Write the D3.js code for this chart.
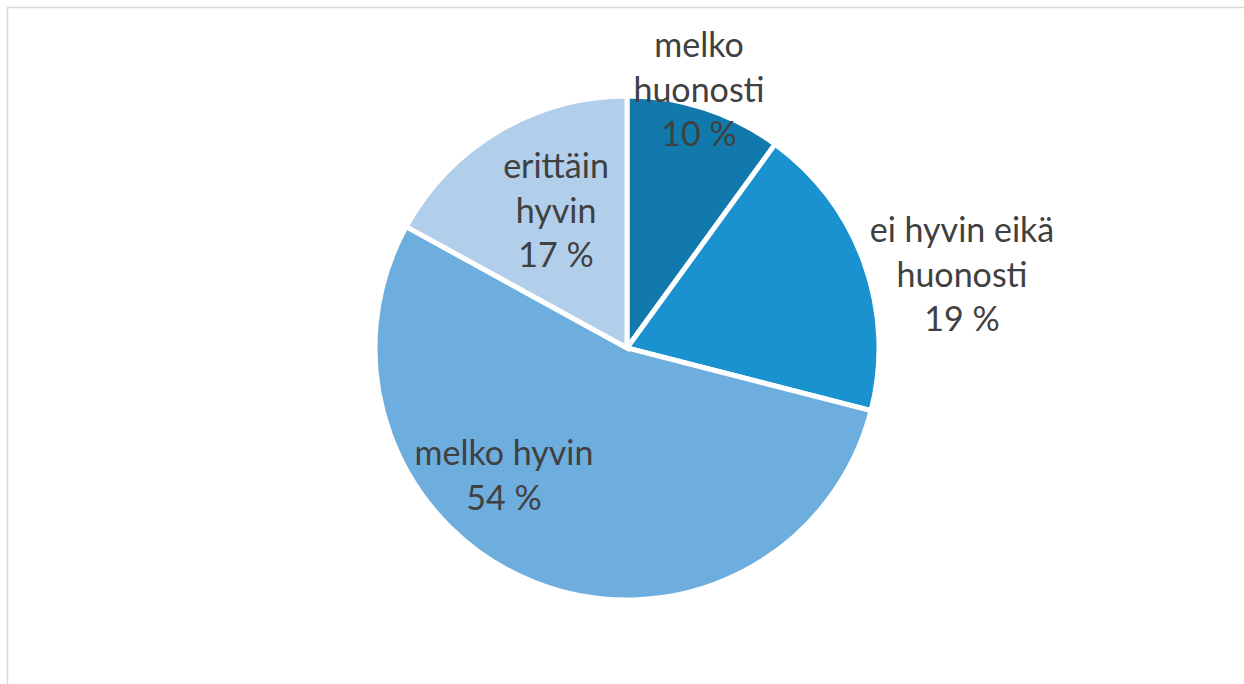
<!DOCTYPE html>
<html><head><meta charset="utf-8">
<script src="https://cdn.jsdelivr.net/npm/d3@7"></script>
<style>html,body{margin:0;padding:0;background:#fff;}svg{display:block;}</style>
</head><body>
<svg id="c" width="1244" height="684"></svg>
<script>
const categories = ["melko huonosti", "ei hyvin eikä huonosti", "melko hyvin", "erittäin hyvin"];
const values = [10, 19, 54, 17];
const colors = ["#1179AB", "#1A92CF", "#6EAEDF", "#B1CEEA"];
const labelLines = [["melko", "huonosti", "10 %"], ["ei hyvin eikä", "huonosti", "19 %"], ["melko hyvin", "54 %"], ["erittäin", "hyvin", "17 %"]];
const labelPos = [[699, 57], [962, 242], [504, 465], [556, 178]];

const svg = d3.select("#c");
svg.append("rect").attr("x", 7.5).attr("y", 7.5).attr("width", 1400).attr("height", 900)
  .attr("fill", "#fff").attr("stroke", "#D9D9D9").attr("stroke-width", 1.5);

const cx = 627, cy = 348, r = 252;
const pie = d3.pie().sort(null).value(d => d)(values);
const arc = d3.arc().innerRadius(0).outerRadius(r);
const g = svg.append("g").attr("transform", `translate(${cx},${cy})`);
g.selectAll("path").data(pie).join("path")
  .attr("d", arc).attr("fill", (d, i) => colors[i])
  .attr("stroke", "#fff").attr("stroke-width", 5).attr("stroke-linejoin", "miter");

const lh = 44.5;
labelLines.forEach((lines, i) => {
  const t = svg.append("text").attr("text-anchor", "middle")
    .attr("font-family", "Lato, 'Open Sans', sans-serif").attr("font-size", 34).attr("fill", "#404040");
  lines.forEach((s, j) => t.append("tspan").attr("x", labelPos[i][0]).attr("y", labelPos[i][1] + j * lh).text(s));
});
</script>
</body></html>
